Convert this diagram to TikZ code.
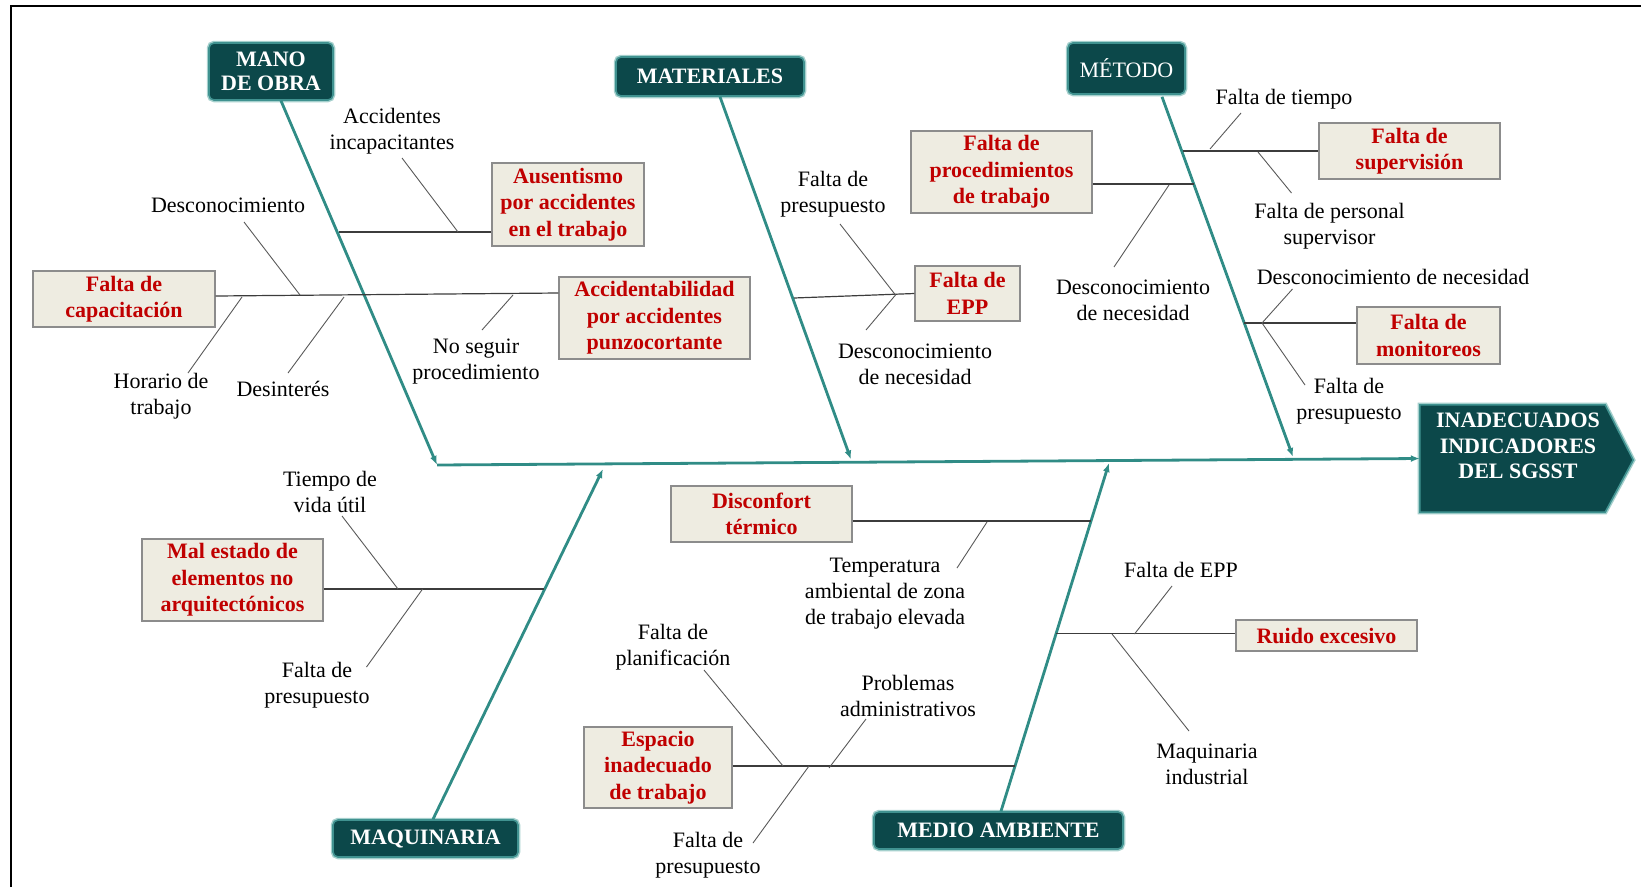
\documentclass[tikz,border=0pt]{standalone}
\usepackage{fontspec}
\setmainfont{Liberation Serif}
\usetikzlibrary{arrows.meta,calc}

\definecolor{catfill}{RGB}{12,72,74}
\definecolor{catedge}{RGB}{64,146,144}
\definecolor{catglow}{RGB}{165,208,205}
\definecolor{spinecol}{RGB}{48,140,134}
\definecolor{causefill}{RGB}{238,236,225}
\definecolor{causeedge}{RGB}{140,140,140}
\definecolor{causetext}{RGB}{192,0,0}
\definecolor{bonecol}{RGB}{60,60,60}

\begin{document}
\begin{tikzpicture}[x=1pt,y=-1pt,
  every node/.style={font=\fontsize{22}{26}\selectfont, inner sep=0pt, align=center},
  category/.style={rounded corners=5pt, fill=catfill, draw=catedge, line width=1.6pt,
    text=white, font=\fontsize{22}{24}\selectfont\bfseries,
    preaction={draw=catglow, line width=4.5pt}},
  cause/.style={fill=causefill, draw=causeedge, line width=1.1pt, text=causetext,
    font=\fontsize{22}{26.5}\selectfont\bfseries},
  txt/.style={text=black},
  spine/.style={draw=spinecol, line width=2.8pt, -{Latex[length=9pt,width=7pt]}},
  branch/.style={draw=bonecol, line width=1.2pt},
  twig/.style={draw=bonecol!85, line width=0.9pt},
]
\useasboundingbox (0,0) rectangle (1641,887);

% frame
\draw[black, line width=2pt] (10.5,887) -- (10.5,6) -- (1641,6);

% ---------- category headers ----------
\node[category, minimum width=124pt, minimum height=57pt] (mano) at (271,71.5) {MANO\\DE OBRA};
\node[category, minimum width=188pt, minimum height=39pt] (materiales) at (710,76.5) {MATERIALES};
\node[category, font=\fontsize{22}{26}\selectfont, minimum width=117pt, minimum height=51pt] (metodo) at (1126.5,68.5) {MÉTODO};
\node[category, minimum width=185pt, minimum height=37pt] (maquinaria) at (425.5,838.5) {MAQUINARIA};
\node[category, minimum width=249pt, minimum height=37pt] (medio) at (998.5,830.5) {MEDIO AMBIENTE};

% ---------- effect (head of the fish) ----------
\node[minimum width=185pt, minimum height=107pt] (effect) at (1512.5,458.5) {};
\path[fill=catfill, draw=catedge, line width=1.6pt, preaction={draw=catglow, line width=4.5pt}]
  (effect.north west) -- (effect.north east) -- ($(effect.east)+(28,1.5)$)
  -- (effect.south east) -- (effect.south west) -- cycle;
\node[text=white, font=\fontsize{22}{25.5}\selectfont\bfseries] (effecttxt) at (1518,446)
  {INADECUADOS\\INDICADORES\\DEL SGSST};

% ---------- causes ----------
\node[cause, minimum width=152pt, minimum height=83pt] (ausentismo) at (568,204.5) {Ausentismo\\por accidentes\\en el trabajo};
\node[cause, minimum width=182pt, minimum height=56pt] (capacitacion) at (124,299) {Falta de\\capacitación};
\node[cause, minimum width=191pt, minimum height=82pt] (accidentabilidad) at (654.5,318) {Accidentabilidad\\por accidentes\\punzocortante};
\node[cause, minimum width=105pt, minimum height=55pt] (epp) at (967.5,293.5) {Falta de\\EPP};
\node[cause, minimum width=181pt, minimum height=82pt] (procedimientos) at (1001.5,172) {Falta de\\procedimientos\\de trabajo};
\node[cause, minimum width=181pt, minimum height=56pt] (supervision) at (1409.5,151) {Falta de\\supervisión};
\node[cause, minimum width=143pt, minimum height=57pt] (monitoreos) at (1428.5,335.5) {Falta de\\monitoreos};
\node[cause, minimum width=181pt, minimum height=82pt] (malestado) at (232.5,580) {Mal estado de\\elementos no\\arquitectónicos};
\node[cause, minimum width=181pt, minimum height=56pt] (disconfort) at (761.5,514) {Disconfort\\térmico};
\node[cause, minimum width=181pt, minimum height=31pt] (ruido) at (1326.5,635.5) {Ruido excesivo};
\node[cause, minimum width=148pt, minimum height=81pt] (espacio) at (658,767.5) {Espacio\\inadecuado\\de trabajo};

% ---------- sub-cause texts ----------
\node[txt] (accinc) at (392,131.5) {Accidentes\\incapacitantes};
\node[txt] (descon) at (228,205) {Desconocimiento};
\node[txt] (horario) at (161,396) {Horario de\\trabajo};
\node[txt] (desinteres) at (283,389) {Desinterés};
\node[txt] (noseguir) at (476,361.5) {No seguir\\procedimiento};
\node[txt] (fpresA) at (833,194) {Falta de\\presupuesto};
\node[txt] (descnecA) at (915,364.5) {Desconocimiento\\de necesidad};
\node[txt] (descnecB) at (1133,300.5) {Desconocimiento\\de necesidad};
\node[txt] (ftiempo) at (1284,99) {Falta de tiempo};
\node[txt] (fpersonal) at (1329.5,226) {Falta de personal\\supervisor};
\node[txt] (descnecC) at (1393,277) {Desconocimiento de necesidad};
\node[txt] (fpresB) at (1349,401) {Falta de\\presupuesto};
\node[txt] (tiempovida) at (330,491.5) {Tiempo de\\vida útil};
\node[txt] (fpresC) at (317,685) {Falta de\\presupuesto};
\node[txt] (temperatura) at (885,594) {Temperatura\\ambiental de zona\\de trabajo elevada};
\node[txt] (fepp) at (1181,570) {Falta de EPP};
\node[txt] (maqind) at (1207,764) {Maquinaria\\industrial};
\node[txt] (fplan) at (673,647.5) {Falta de\\planificación};
\node[txt] (probadm) at (908,695.5) {Problemas\\administrativos};
\node[txt] (fpresD) at (708,855.5) {Falta de\\presupuesto};

% ---------- spines ----------
\coordinate (tail) at (437,465);
\coordinate (matTip) at (851,459.5);
\coordinate (metTip) at (1293,457);
\coordinate (maqTip) at (603,469);
\coordinate (medTip) at (1109,463);
\draw[spine] (tail) -- (effect.west);
\draw[spine] ($(mano.south)+(10,0)$) -- (tail);
\draw[spine] ($(materiales.south)+(10,0)$) -- (matTip);
\draw[spine] ($(metodo.south)+(35.5,2)$) -- (metTip);
\draw[spine] ($(maquinaria.north)+(7.5,0)$) -- (maqTip);
\draw[spine] ($(medio.north)+(2.5,0)$) -- (medTip);

% ---------- MANO DE OBRA bones ----------
\coordinate (mA) at (338.5,232);
\coordinate (mB) at (215,296);
\coordinate (mC) at (559,293);
\draw[branch] (mA) -- (mA -| ausentismo.west);
\draw[branch] (capacitacion.east |- mB) -- (accidentabilidad.west |- mC);
\coordinate (tw1a) at (402,158);  \coordinate (tw1b) at (458,232);
\coordinate (tw2a) at (244,222);  \coordinate (tw2b) at (300,295);
\coordinate (tw3a) at (188,373);  \coordinate (tw3b) at (242,297);
\coordinate (tw4a) at (288,373);  \coordinate (tw4b) at (344,297);
\coordinate (tw5a) at (482,330);  \coordinate (tw5b) at (513,295);
\draw[twig] (tw1a) -- (tw1b);
\draw[twig] (tw2a) -- (tw2b);
\draw[twig] (tw3a) -- (tw3b);
\draw[twig] (tw4a) -- (tw4b);
\draw[twig] (tw5a) -- (tw5b);

% ---------- MATERIALES bones ----------
\coordinate (tA) at (794,298);
\draw[branch] (tA) -- (epp.west);
\coordinate (tw6a) at (840,224);  \coordinate (tw6b) at (895.5,295);
\coordinate (tw7a) at (866,330);
\draw[twig] (tw6a) -- (tw6b);
\draw[twig] (tw7a) -- (tw6b);

% ---------- METODO bones ----------
\coordinate (eA) at (1194,184);
\coordinate (eB) at (1183,151);
\coordinate (eC) at (1244,323);
\draw[branch] (procedimientos.east |- eA) -- (eA);
\draw[branch] (eB) -- (supervision.west);
\draw[branch] (eC) -- (eC -| monitoreos.west);
\coordinate (tw8a) at (1114,267);   \coordinate (tw8b) at (1169,185);
\coordinate (tw9a) at (1241,113);   \coordinate (tw9b) at (1210,149);
\coordinate (tw10a) at (1291.5,193); \coordinate (tw10b) at (1258,152);
\coordinate (tw11a) at (1292.5,289); \coordinate (tw11b) at (1262,323);
\coordinate (tw12a) at (1305,385);
\draw[twig] (tw8a) -- (tw8b);
\draw[twig] (tw9a) -- (tw9b);
\draw[twig] (tw10a) -- (tw10b);
\draw[twig] (tw11a) -- (tw11b);
\draw[twig] (tw12a) -- (tw11b);

% ---------- MAQUINARIA bones ----------
\coordinate (qA) at (544,589);
\draw[branch] (malestado.east |- qA) -- (qA);
\coordinate (tw13a) at (342,516);   \coordinate (tw13b) at (398,589);
\coordinate (tw14a) at (366.5,667); \coordinate (tw14b) at (422.6,589);
\draw[twig] (tw13a) -- (tw13b);
\draw[twig] (tw14a) -- (tw14b);

% ---------- MEDIO AMBIENTE bones ----------
\coordinate (aA) at (1091,521);
\coordinate (aB) at (1056,633.5);
\coordinate (aC) at (1015,766);
\draw[branch] (disconfort.east |- aA) -- (aA);
\draw[branch] (aB) -- (aB -| ruido.west);
\draw[branch] (espacio.east |- aC) -- (aC);
\coordinate (tw15a) at (957,568);   \coordinate (tw15b) at (987,522);
\coordinate (tw16a) at (1172,586);  \coordinate (tw16b) at (1134.5,634);
\coordinate (tw17a) at (1189,731);  \coordinate (tw17b) at (1112,634);
\coordinate (tw18a) at (704,670);   \coordinate (tw18b) at (783,766);
\coordinate (tw19a) at (866,719);   \coordinate (tw19b) at (829,768);
\coordinate (tw20a) at (753,843);   \coordinate (tw20b) at (809,766);
\draw[twig] (tw15a) -- (tw15b);
\draw[twig] (tw16a) -- (tw16b);
\draw[twig] (tw17a) -- (tw17b);
\draw[twig] (tw18a) -- (tw18b);
\draw[twig] (tw19a) -- (tw19b);
\draw[twig] (tw20a) -- (tw20b);
\end{tikzpicture}
\end{document}
